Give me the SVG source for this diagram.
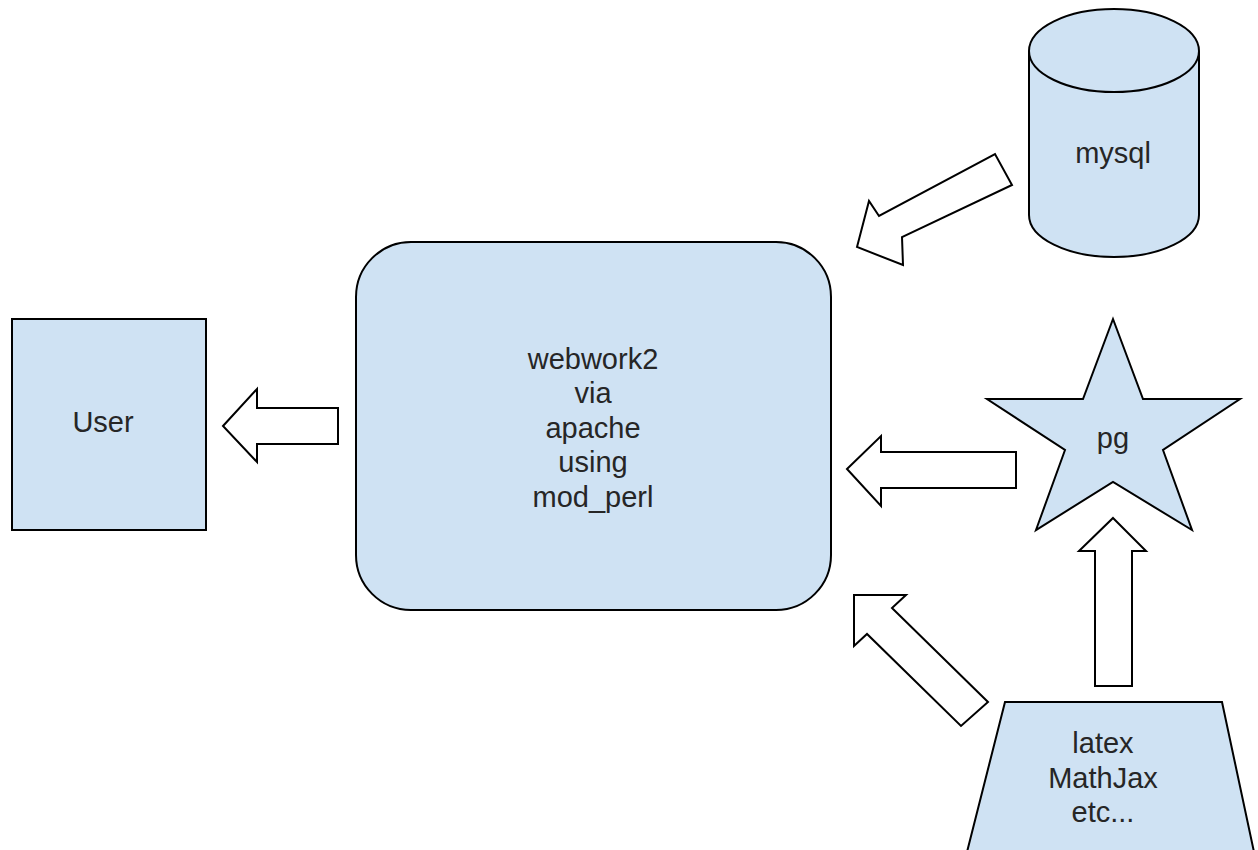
<svg xmlns="http://www.w3.org/2000/svg" width="1258" height="850" viewBox="0 0 1258 850">
<style>
.shape{fill:#cfe2f3;stroke:#000;stroke-width:2;stroke-linejoin:miter}
.arrow{fill:#fff;stroke:#000;stroke-width:2;stroke-linejoin:miter}
.lbl{font-family:"Liberation Sans",Arial,sans-serif;font-size:29px;fill:#262626;text-anchor:middle}
</style>
<rect width="1258" height="850" fill="#fff"/>
<g id="user">
<rect class="shape" x="12" y="319" width="194" height="211"/>
<text class="lbl" x="103" y="432">User</text>
</g>
<g id="webwork2">
<rect class="shape" x="356" y="242" width="475" height="368" rx="55" ry="55"/>
<text class="lbl" x="593" y="369">webwork2</text>
<text class="lbl" x="593" y="403">via</text>
<text class="lbl" x="593" y="438">apache</text>
<text class="lbl" x="593" y="472">using</text>
<text class="lbl" x="593" y="507">mod_perl</text>
</g>
<g id="mysql">
<path class="shape" d="M1029,51 L1029,215 A85,42 0 0 0 1199,215 L1199,51 A85,42 0 0 0 1029,51 Z"/>
<path class="shape" d="M1029,51 A85,41 0 0 0 1199,51" fill="none"/>
<text class="lbl" x="1113" y="163">mysql</text>
</g>
<g id="pg">
<polygon class="shape" points="1113,319 1143,399 1240,399 1163,450 1192,530 1113,482 1036,530 1065,450 987,399 1083,399"/>
<text class="lbl" x="1113" y="448">pg</text>
</g>
<g id="latex">
<polygon class="shape" points="1005,702 1222,702 1254,852 967,852"/>
<text class="lbl" x="1103" y="753">latex</text>
<text class="lbl" x="1103" y="788">MathJax</text>
<text class="lbl" x="1103" y="822">etc...</text>
</g>
<g id="connectors">
<polygon class="arrow" points="223,426 257,389 257,408 338,408 338,444 257,444 257,462"/>
<polygon class="arrow" points="847,469 881,436 881,452 1016,452 1016,488 881,488 881,506"/>
<polygon class="arrow" points="857,247 869,201 879,216 995,154 1012,185 902,237 903,265"/>
<polygon class="arrow" points="854,595 906,595 892,608 988,702 961,726 867,634 854,646"/>
<polygon class="arrow" points="1113,518 1146,551 1132,551 1132,686 1095,686 1095,551 1079,551"/>
</g>
</svg>
